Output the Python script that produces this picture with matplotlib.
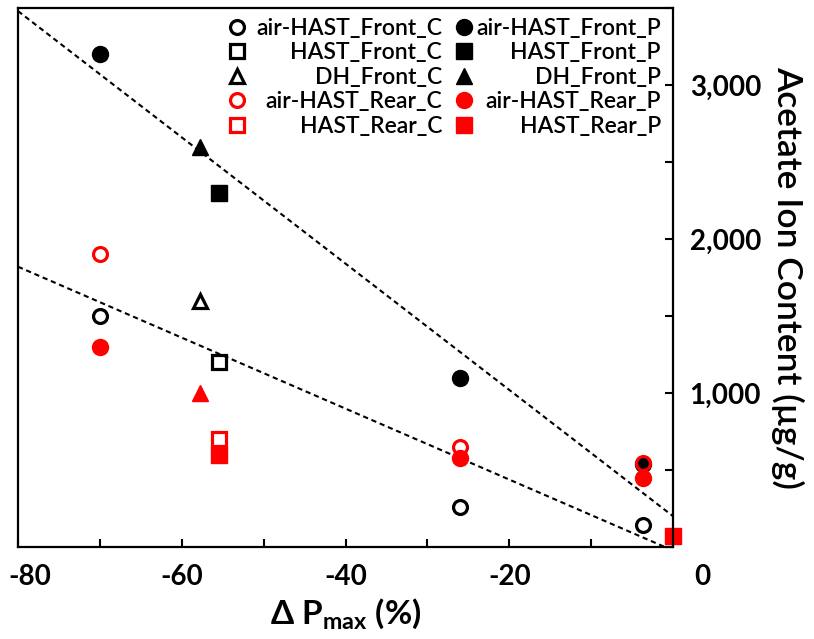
import matplotlib
matplotlib.use('Agg')
import matplotlib.pyplot as plt
from matplotlib.ticker import FixedLocator
from matplotlib.transforms import ScaledTranslation

##### Fonts
plt.rcParams['font.family'] = ['Lato', 'DejaVu Sans']
plt.rcParams['mathtext.default'] = 'regular'

##### Data
# air-HAST samples
airhast_x = [-70, -26, -3.7]
airhast_front_c = [1500, 260, 140]
airhast_front_p = [3200, 1100, 540]
airhast_rear_c = [1900, 650, 545]
airhast_rear_p = [1300, 580, 450]
# HAST samples
hast_x = [-55.5]
hast_front_c = [1200]
hast_front_p = [2300]
hast_rear_c = [700]
hast_rear_p_x = [-55.5, 0]
hast_rear_p = [600, 70]
# DH samples
dh_x = [-57.8]
dh_front_c = [1600]
dh_front_p = [2600]
dh_rear_p = [1000]
# trend lines
trend_x = [-80, 0]
trend_p = [3480, 200]
trend_c = [1820, -23]

x_ticks = list(range(-80, 1, 10))
x_labels = ['-80', '', '-60', '', '-40', '', '-20', '', '0']
y_ticks = list(range(0, 3501, 500))
y_labels = ['', '', '1,000', '', '2,000', '', '3,000', '']

RED = '#ff0000'
BLACK = '#000000'

##### Figure
fig = plt.figure(figsize=(8.14, 6.39), dpi=100)
ax = fig.add_axes([0.0221, 0.144, 0.8047, 0.8435])

ax.plot(trend_x, trend_p, color=BLACK, lw=1.5, ls=(0, (2.5, 1.8)), zorder=1)
ax.plot(trend_x, trend_c, color=BLACK, lw=1.5, ls=(0, (2.5, 1.8)), zorder=1)

def open_mk(x, y, marker, color, ms, label):
    h, = ax.plot(x, y, ls='none', marker=marker, ms=ms, mfc='none',
                 mec=color, mew=2.3, label=label, clip_on=False)
    return h

def fill_mk(x, y, marker, color, ms, label):
    h, = ax.plot(x, y, ls='none', marker=marker, ms=ms, mfc=color,
                 mec=color, mew=1, label=label, clip_on=False)
    return h

h1 = open_mk(airhast_x, airhast_front_c, 'o', BLACK, 10, 'air-HAST_Front_C')
h2 = fill_mk(airhast_x, airhast_front_p, 'o', BLACK, 11.5, 'air-HAST_Front_P')
h3 = open_mk(hast_x, hast_front_c, 's', BLACK, 10.5, 'HAST_Front_C')
h4 = fill_mk(hast_x, hast_front_p, 's', BLACK, 11, 'HAST_Front_P')
h5 = open_mk(dh_x, dh_front_c, '^', BLACK, 10.5, 'DH_Front_C')
h6 = fill_mk(dh_x, dh_front_p, '^', BLACK, 12, 'DH_Front_P')
h7 = open_mk(airhast_x, airhast_rear_c, 'o', RED, 10, 'air-HAST_Rear_C')
h8 = fill_mk(airhast_x, airhast_rear_p, 'o', RED, 11.5, 'air-HAST_Rear_P')
h9 = open_mk(hast_x, hast_rear_c, 's', RED, 10.5, 'HAST_Rear_C')
h10 = fill_mk(hast_rear_p_x, hast_rear_p, 's', RED, 11, 'HAST_Rear_P')
fill_mk(dh_x, dh_rear_p, '^', RED, 12, None)

##### Axes
ax.set_xlim(-80, 0)
ax.set_ylim(0, 3500)
ax.xaxis.set_major_locator(FixedLocator(x_ticks))
ax.set_xticklabels(x_labels)
ax.yaxis.set_major_locator(FixedLocator(y_ticks))
ax.set_yticklabels(y_labels)
for s in ax.spines.values():
    s.set_linewidth(1.6)
ax.tick_params(axis='x', direction='in', length=6, width=1.5, pad=12,
               labelsize=20)
ax.tick_params(axis='y', direction='in', length=6, width=1.5, pad=12,
               left=False, right=True, labelleft=False, labelright=True,
               labelsize=20)
for t in ax.get_xticklabels() + ax.get_yticklabels():
    t.set_fontweight('bold')

# shift the end labels like in the reference
xl = ax.get_xticklabels()
xl[0].set_transform(xl[0].get_transform() + ScaledTranslation(0.12, 0, fig.dpi_scale_trans))
xl[-1].set_transform(xl[-1].get_transform() + ScaledTranslation(0.29, 0, fig.dpi_scale_trans))

ax.set_xlabel('Δ P$_{max}$ (%)', fontsize=24, fontweight='bold', labelpad=5)
ax.yaxis.set_label_position('right')
ax.set_ylabel('Acetate Ion Content (µg/g)', fontsize=25.5, fontweight='semibold',
              rotation=270, va='bottom', labelpad=7)

##### Legend
handles = [h1, h3, h5, h7, h9, h2, h4, h6, h8, h10]
leg = fig.legend(handles, [h.get_label() for h in handles], ncol=2,
                 loc='upper right', bbox_to_anchor=(668 / 814, 1 - 18 / 639),
                 bbox_transform=fig.transFigure, frameon=False,
                 prop={'size': 16.5, 'weight': 'semibold'},
                 handlelength=1.0, handletextpad=0.35, columnspacing=0.45,
                 labelspacing=0.15, borderpad=0, borderaxespad=0)

# right-align legend text in each column (column 2 sits a bit closer to its marker)
fig.canvas.draw()
renderer = fig.canvas.get_renderer()
texts = leg.get_texts()
for col, extra in ((texts[:5], 0), (texts[5:], 7)):
    widths = [t.get_window_extent(renderer).width for t in col]
    wmax = max(widths)
    for t, w in zip(col, widths):
        t.set_position((wmax - w - extra, 0))

fig.savefig('out.png', dpi=100)
